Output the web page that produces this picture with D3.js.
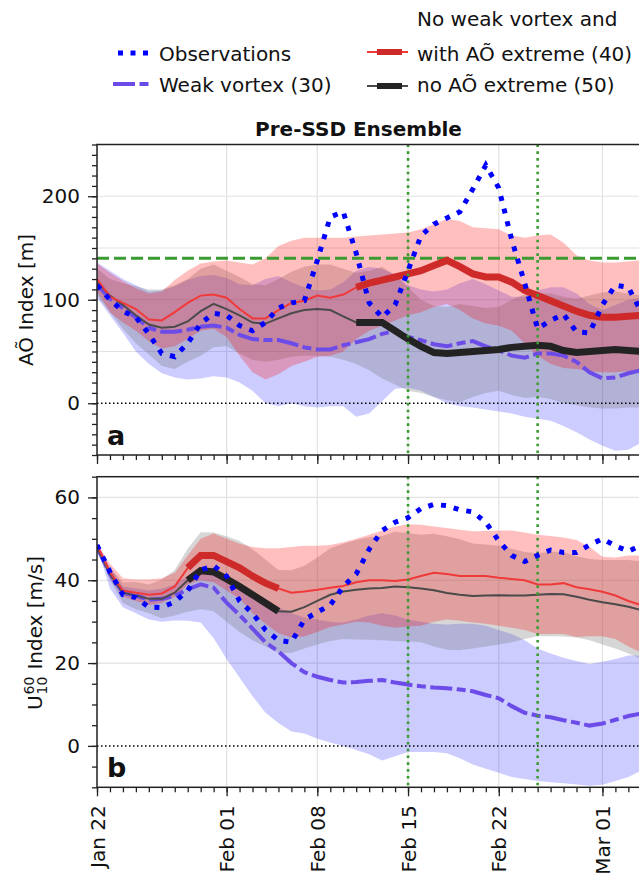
<!DOCTYPE html>
<html><head><meta charset="utf-8">
<script src="https://cdn.jsdelivr.net/npm/d3@7"></script>
<style>
html,body{margin:0;padding:0;background:#fff;overflow:hidden;}
svg{display:block;font-family:"DejaVu Sans",sans-serif;}
</style></head><body>
<svg id="chart" width="639" height="874"></svg>
<script>
// ---------------- DATA ----------------
const startDate = "2020-01-22";
const nDays = 43;
const majorTickDates = ["2020-01-22","2020-02-01","2020-02-08","2020-02-15","2020-02-22","2020-03-01"];
const markerDates = ["2020-02-15","2020-02-25"];
const aoThreshold = 140;
const seriesNames = ["Observations","Weak vortex (30)","No weak vortex and","with A\u00D5 extreme (40)","no A\u00D5 extreme (50)"];
const yLabelA = "A\u00D5 Index [m]";

// Panel a: AO index [m]
const obsA    = [114,100,89,83,67,48,45,58,77,87,85,75,70,78,92,97,99,138,180,185,145,97,83,95,128,162,173,179,185,207,230,208,158,116,72,80,86,69,68,95,114,112,88];
const weakA   = [115,101,92,83,73,69,69,71,74,75,73,66,62,61,61,58,54,52,52,56,59,62,67,70,64,61,57,55,58,60,55,51,46,44,48,48,46,40,30,24,25,29,32];
const weakLoA = [102,85,68,50,38,29,25,23,24,26,25,20,12,0,-3,0,-3,-4,-3,-3,-13,-10,2,14,15,12,6,0,-3,-4,-6,-8,-10,-13,-15,-17,-22,-28,-35,-41,-46,-45,-38];
const weakHiA = [136,128,120,114,108,109,113,119,123,124,121,115,114,120,123,117,112,109,110,117,128,132,130,124,114,110,108,110,116,120,115,109,103,103,109,112,112,106,96,90,95,100,102];
const extA    = [120,103,97,91,81,80,88,97,104,105,102,91,82,82,90,97,99,104,102,105,112,116,119,122,125,128,133,138,132,125,122,122,117,109,104,99,94,89,85,83,83,84,85];
const extLoA  = [108,88,78,70,60,53,55,62,70,72,64,46,30,23,28,36,40,45,46,50,62,70,75,80,85,88,93,96,90,82,77,75,70,58,46,38,34,33,31,30,30,31,32];
const extHiA  = [135,126,118,111,106,108,119,128,135,137,138,136,134,140,152,157,160,160,160,160,161,162,163,164,165,168,173,178,176,170,169,168,162,160,162,163,155,143,138,136,136,137,138];
const noExtA  = [117,104,95,85,76,73,74,79,89,96,91,85,78,77,82,87,90,91,90,84,78,78,78,70,62,55,49,48,49,50,51,52,54,55,56,55,51,49,50,51,52,51,50];
const noExtLoA= [104,88,72,58,47,36,33,40,46,54,55,48,42,40,42,45,46,46,45,42,38,32,24,18,12,10,6,3,1,6,10,12,8,5,6,4,0,-2,-4,-5,-5,-4,-4];
const noExtHiA= [130,120,116,113,110,110,114,120,130,134,128,122,115,114,120,127,132,134,134,130,126,128,132,124,112,100,94,93,96,94,92,93,100,105,106,106,103,101,104,107,108,106,104];
const sigDaysA = [20, 42];

// Panel b: U10 60N index [m/s]
const obsB    = [48.5,42,36.5,35.8,33.5,33.4,34.8,37.5,42.5,43.5,41,35,32,28,25.5,25,30.5,32.3,34,38.5,41.5,47.5,52,54,55.1,57.3,58.3,58,57,56.5,54,49.5,46,44.5,46,47.3,46.7,46.7,48.5,50,48.3,47,48.5];
const weakB   = [48,41.5,37,36.3,35.3,35.5,36.2,37.8,39,38.2,34.6,31.6,28.3,25,22.8,20,17.8,16.7,15.9,15.3,15.4,15.7,15.9,15.3,14.8,14.4,14.1,13.9,13.6,13.2,12.3,11.5,9.6,8,7.3,6.9,6.2,5.6,4.9,5.4,6.3,7.2,7.8];
const weakLoB = [48,38,33.5,32,30.5,30,30.3,30.2,29.8,26,21,16.5,12,8,5.5,3.5,3,1.7,0.8,0,-1,-2,-3.5,-2.5,-1.5,-1.5,-1.5,-1.8,-3,-4.5,-5.5,-6.5,-7.5,-8,-8.5,-8.8,-9,-9.3,-9.6,-9.4,-8.5,-7.5,-6];
const weakHiB = [48.5,43,38.5,38,37.5,38,39,41,43,43,41,39,37,35,33.5,32,31,30.5,30,29.8,30.5,31.5,32,31.5,30.5,30,29.5,29.3,29.5,29.5,29,28,27,25.5,23.5,22.3,21.3,20.5,19.8,20.3,21,21.8,21.8];
const extB    = [48.5,42,37.5,37,36.5,36.8,38.5,43,46,46,44.5,43,41,39.3,38,37,37.3,37.7,38.2,38.6,39.5,40,40,39.8,40.2,41,41.8,41.5,41,41,41,40.6,40.3,40,39,39,39.3,38.3,37.8,37.2,36.3,35,34];
const extLoB  = [47.7,40.5,36,35,34,34.5,36,39,40,39.5,37.5,35.5,32,29.5,27.2,26.2,26.4,27.5,28.7,29.3,30,29.8,29,28.5,28.8,29,30,30.5,30.2,29.8,29.5,29,28.5,28,27,27,27,26.3,26.5,26.5,25.8,24,22.5];
const extHiB  = [49,44,40.5,40.2,40.2,40.5,41.8,46,50,51.3,50,48.8,48,47.7,47.7,48,48.3,48.3,48.5,49.2,50,51,52,53,53.5,53.4,53,52.6,52.2,51.8,51.9,52,52,51.5,51,50.7,50.3,49.7,48,45.7,45.5,46,46];
const noExtB  = [48,41.5,37,36.3,35.5,35.5,37,40,42.3,42,40.3,38.5,36.5,34.5,32.5,32.4,33.5,35,36.5,37.3,37.7,38,38.1,38.5,38.3,38,37.6,36.9,36.5,36.2,36.3,36.4,36.3,36.3,36.5,36.7,36.6,36,35.3,34.7,34.2,33.6,32.8];
const noExtLoB= [47.5,40,34.5,33,32,30.8,31.5,32.4,33,32.5,30,27.5,25.5,24,22.5,22.4,23.5,24.5,25.3,25.8,25.7,25.6,25.5,25.3,25.2,25,24,23.2,23.1,23.5,24,24.5,25,25.8,26.5,26.5,26.4,26.2,25.5,24.5,23.5,22.3,21];
const noExtHiB= [48.5,43,39.5,39.6,39,40.2,42.5,47.6,51.6,51.5,50.6,49.5,47.5,45,42.5,42.4,43.5,45.5,47.7,48.8,49.7,50.4,50.7,51.7,51.4,51,51.2,50.6,49.9,48.9,48.6,48.3,47.6,46.8,46.5,46.9,46.8,45.8,45.1,44.9,44.9,44.9,44.6];
const sigDaysB = [7, 14];

// ---------------- STYLE / LAYOUT ----------------
const C = {
  obs:"#0000ff", weak:"#6c4ce8", red:"#f03a3a", redThick:"#cf2a2a",
  blk:"#4a4a4a", blkThick:"#232323", green:"#3a9b30", grid:"#e2e2e2", axis:"#222"
};
const FS = 20;
const svg = d3.select("#chart");
const parse = d3.utcParse("%Y-%m-%d");
const t0 = parse(startDate);
const dates = d3.range(nDays).map(i => d3.utcDay.offset(t0, i));
const tEnd = d3.utcDay.offset(t0, 46);
const left = 97, dayPx = 12.96;
const x = d3.scaleUtc().domain([t0, tEnd]).range([left, left + dayPx*46]);
const rightEdge = x(tEnd);
const majorDates = majorTickDates.map(parse);
const allDays = d3.utcDay.range(t0, tEnd);

function drawPanel(p) {
  const y = d3.scaleLinear().domain(p.domain).range([p.bottom, p.top]);
  const g = svg.append("g");
  const clipId = "clip" + p.key;
  svg.append("clipPath").attr("id", clipId).append("rect")
    .attr("x", left).attr("y", p.top).attr("width", rightEdge - left).attr("height", p.bottom - p.top);
  const pg = g.append("g").attr("clip-path", `url(#${clipId})`);

  // grid
  pg.selectAll(".hg").data(p.grid).join("line")
    .attr("x1", left).attr("x2", rightEdge).attr("y1", d => y(d)).attr("y2", d => y(d))
    .attr("stroke", C.grid).attr("stroke-width", 1.2);
  pg.selectAll(".vg").data(majorDates).join("line")
    .attr("x1", d => x(d)).attr("x2", d => x(d)).attr("y1", p.top).attr("y2", p.bottom)
    .attr("stroke", C.grid).attr("stroke-width", 1.2);

  const area = (lo, hi) => d3.area().x((d,i) => x(dates[i])).y0((d,i) => y(lo[i])).y1((d,i) => y(hi[i]))(lo);
  pg.append("path").attr("d", area(p.weakLo, p.weakHi)).attr("fill", "#0000ff").attr("fill-opacity", 0.2);
  pg.append("path").attr("d", area(p.noExtLo, p.noExtHi)).attr("fill", "#777").attr("fill-opacity", 0.3);
  pg.append("path").attr("d", area(p.extLo, p.extHi)).attr("fill", "#ff0000").attr("fill-opacity", 0.25);

  // zero line
  pg.append("line").attr("x1", left).attr("x2", rightEdge).attr("y1", y(0)).attr("y2", y(0))
    .attr("stroke", "#000").attr("stroke-width", 1.5).attr("stroke-dasharray", "1.5,2.5");
  // threshold
  if (p.threshold != null) {
    pg.append("line").attr("x1", left).attr("x2", rightEdge).attr("y1", y(p.threshold)).attr("y2", y(p.threshold))
      .attr("stroke", C.green).attr("stroke-width", 3).attr("stroke-dasharray", "12,5");
  }

  const line = (vals, i0, i1) => d3.line().x(d => x(dates[d])).y(d => y(vals[d]))(d3.range(i0, i1 + 1));
  const last = nDays - 1;
  pg.append("path").attr("d", line(p.weak, 0, last)).attr("fill","none").attr("stroke", C.weak)
    .attr("stroke-width", 4).attr("stroke-dasharray", "22,4.5,9,4.5");
  pg.append("path").attr("d", line(p.noExt, 0, last)).attr("fill","none").attr("stroke", C.blk).attr("stroke-width", 2);
  pg.append("path").attr("d", line(p.noExt, p.sig[0], p.sig[1])).attr("fill","none").attr("stroke", C.blkThick).attr("stroke-width", 7);
  pg.append("path").attr("d", line(p.ext, 0, last)).attr("fill","none").attr("stroke", C.red).attr("stroke-width", 2);
  pg.append("path").attr("d", line(p.ext, p.sig[0], p.sig[1])).attr("fill","none").attr("stroke", C.redThick).attr("stroke-width", 7);

  // markers
  pg.selectAll(".mk").data(markerDates.map(parse)).join("line")
    .attr("x1", d => x(d)).attr("x2", d => x(d)).attr("y1", p.top).attr("y2", p.bottom)
    .attr("stroke", C.green).attr("stroke-width", 2.6).attr("stroke-dasharray", "2.6,4.2");

  pg.append("path").attr("d", line(p.obs, 0, last)).attr("fill","none").attr("stroke", C.obs)
    .attr("stroke-width", 5).attr("stroke-dasharray", "5,8");

  // frame
  g.append("rect").attr("x", left).attr("y", p.top).attr("width", rightEdge - left).attr("height", p.bottom - p.top)
    .attr("fill","none").attr("stroke", C.axis).attr("stroke-width", 1.5);

  // axes
  const fmt = d3.utcFormat("%b %d");
  const gxm = g.append("g").attr("transform", `translate(0,${p.bottom})`).attr("color", C.axis)
    .call(d3.axisBottom(x).tickValues(allDays).tickSize(5).tickFormat(""));
  gxm.select(".domain").remove();
  const gx = g.append("g").attr("transform", `translate(0,${p.bottom})`).attr("color", C.axis)
    .call(d3.axisBottom(x).tickValues(majorDates).tickSize(9).tickFormat(p.showX ? fmt : ""));
  gx.select(".domain").remove();
  if (p.showX) {
    gx.selectAll("text").attr("font-size", FS).attr("font-family", "DejaVu Sans")
      .attr("fill", "#111").attr("transform", "rotate(-90)").attr("text-anchor", "end")
      .attr("x", -18).attr("y", 0).attr("dy", "0.36em");
  }
  const gym = g.append("g").attr("transform", `translate(${left},0)`).attr("color", C.axis)
    .call(d3.axisLeft(y).tickValues(d3.range(p.domain[0], p.domain[1] + 0.01, p.minorStep)).tickSize(5).tickFormat(""));
  gym.select(".domain").remove();
  const gy = g.append("g").attr("transform", `translate(${left},0)`).attr("color", C.axis)
    .call(d3.axisLeft(y).tickValues(p.major).tickSize(9).tickPadding(8));
  gy.select(".domain").remove();
  gy.selectAll("text").attr("font-size", FS).attr("font-family", "DejaVu Sans").attr("fill", "#111");
  g.selectAll(".tick line").attr("stroke-width", 1.3);

  // panel letter
  g.append("text").attr("x", 107).attr("y", p.bottom - 10).attr("font-size", 27)
    .attr("font-weight", "bold").attr("fill", "#111").text(p.key);
  return y;
}

drawPanel({key:"a", top:144.5, bottom:455, domain:[-50,250], major:[0,100,200], minorStep:10,
  grid:[50,100,150,200], threshold:aoThreshold, showX:false, sig:sigDaysA,
  obs:obsA, weak:weakA, weakLo:weakLoA, weakHi:weakHiA, ext:extA, extLo:extLoA, extHi:extHiA,
  noExt:noExtA, noExtLo:noExtLoA, noExtHi:noExtHiA});
drawPanel({key:"b", top:476.7, bottom:787.3, domain:[-10,65], major:[0,20,40,60], minorStep:5,
  grid:[20,40,60], threshold:null, showX:true, sig:sigDaysB,
  obs:obsB, weak:weakB, weakLo:weakLoB, weakHi:weakHiB, ext:extB, extLo:extLoB, extHi:extHiB,
  noExt:noExtB, noExtLo:noExtLoB, noExtHi:noExtHiB});

// y labels
svg.append("text").attr("transform", "translate(33,300) rotate(-90)").attr("text-anchor", "middle")
  .attr("font-size", FS).attr("fill", "#111").text(yLabelA);
{
  const gb = svg.append("g").attr("transform", "translate(42,633) rotate(-90)").attr("fill", "#111");
  const inner = gb.append("g");
  const u = inner.append("text").attr("x", 0).attr("y", 0).attr("font-size", FS).text("U");
  const wU = u.node().getComputedTextLength();
  const sup = inner.append("text").attr("x", wU + 1).attr("y", -8).attr("font-size", 14).text("60");
  inner.append("text").attr("x", wU + 1).attr("y", 5).attr("font-size", 14).text("10");
  const wS = sup.node().getComputedTextLength();
  inner.append("text").attr("x", wU + wS + 8).attr("y", 0).attr("font-size", FS).text("Index [m/s]");
  const w = inner.node().getBBox().width;
  inner.attr("transform", `translate(${-w/2},0)`);
}

// title
svg.append("text").attr("x", 358.5).attr("y", 136).attr("text-anchor", "middle")
  .attr("font-size", FS).attr("font-weight", "bold").attr("fill", "#111").text("Pre-SSD Ensemble");

// legend
const lg = svg.append("g").attr("font-size", FS).attr("fill", "#111");
lg.append("line").attr("x1", 118).attr("x2", 150).attr("y1", 53).attr("y2", 53)
  .attr("stroke", C.obs).attr("stroke-width", 5).attr("stroke-dasharray", "5,7.5");
lg.append("text").attr("x", 159).attr("y", 61).text(seriesNames[0]);
lg.append("line").attr("x1", 113).attr("x2", 149).attr("y1", 84).attr("y2", 84)
  .attr("stroke", C.weak).attr("stroke-width", 4).attr("stroke-dasharray", "22,4.5,9,4.5");
lg.append("text").attr("x", 159).attr("y", 92).text(seriesNames[1]);
lg.append("text").attr("x", 417).attr("y", 26).text(seriesNames[2]);
lg.append("line").attr("x1", 367).attr("x2", 408).attr("y1", 52).attr("y2", 52).attr("stroke", C.red).attr("stroke-width", 2);
lg.append("line").attr("x1", 377).attr("x2", 402).attr("y1", 52).attr("y2", 52).attr("stroke", C.redThick).attr("stroke-width", 6);
lg.append("text").attr("x", 417).attr("y", 61).text(seriesNames[3]);
lg.append("line").attr("x1", 367).attr("x2", 408).attr("y1", 86).attr("y2", 86).attr("stroke", C.blk).attr("stroke-width", 2);
lg.append("line").attr("x1", 377).attr("x2", 402).attr("y1", 86).attr("y2", 86).attr("stroke", C.blkThick).attr("stroke-width", 6);
lg.append("text").attr("x", 417).attr("y", 92).text(seriesNames[4]);
</script>
</body></html>
